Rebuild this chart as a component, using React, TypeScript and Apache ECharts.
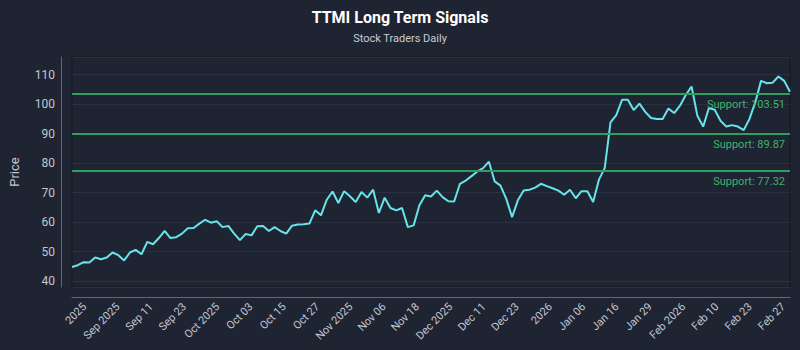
import React, { useEffect, useRef } from "react";
import * as echarts from "echarts";

const TITLE = "TTMI Long Term Signals";
const SUBTITLE = "Stock Traders Daily";

// Trading sessions shown on the chart (weekdays minus US market holidays)
const START_DATE = "2025-08-29";
const END_DATE = "2026-02-27";
const HOLIDAYS = ["2025-09-01", "2025-11-27", "2025-12-25", "2026-01-01", "2026-01-19", "2026-02-16"];

function tradingDays(start: string, end: string, holidays: string[]): string[] {
  const out: string[] = [];
  const d = new Date(start + "T00:00:00Z");
  const e = new Date(end + "T00:00:00Z");
  while (d.getTime() <= e.getTime()) {
    const iso = d.toISOString().slice(0, 10);
    const wd = d.getUTCDay();
    if (wd !== 0 && wd !== 6 && holidays.indexOf(iso) < 0) out.push(iso);
    d.setUTCDate(d.getUTCDate() + 1);
  }
  return out;
}

const dates = tradingDays(START_DATE, END_DATE, HOLIDAYS);

const prices = [
  44.8, 45.4, 46.4, 46.3, 48.0, 47.4, 48.0, 49.7, 48.8, 47.0,
  49.7, 50.6, 49.1, 53.3, 52.5, 54.6, 57.0, 54.6, 54.9, 56.1,
  57.9, 58.0, 59.5, 60.8, 59.8, 60.3, 58.3, 58.7, 56.1, 53.9,
  56.0, 55.5, 58.6, 58.7, 57.0, 58.3, 57.0, 56.1, 58.8, 59.2,
  59.3, 59.5, 64.0, 62.3, 67.6, 70.4, 66.5, 70.5, 68.8, 66.8,
  70.2, 68.3, 71.0, 63.1, 68.3, 64.8, 64.0, 64.8, 58.3, 58.9,
  65.7, 69.1, 68.7, 70.7, 68.5, 67.1, 67.0, 73.0, 74.1, 75.6,
  77.2, 78.3, 80.5, 73.8, 72.4, 67.9, 61.7, 67.4, 70.7, 71.0,
  71.7, 73.0, 72.2, 71.5, 70.7, 69.3, 71.0, 68.1, 70.5, 70.5,
  66.8, 74.4, 78.3, 93.8, 96.3, 101.5, 101.5, 98.0, 100.2, 97.4,
  95.3, 95.0, 95.0, 98.5, 97.0, 99.5, 103.1, 106.0, 96.1, 92.4,
  98.7, 98.1, 94.4, 92.4, 92.9, 92.4, 91.2, 95.0, 100.6, 107.9,
  107.1, 107.3, 109.4, 107.9, 104.2,
];

const supportLevels = [103.51, 89.87, 77.32];

const tickLabels = [
  "2025", "Sep 2025", "Sep 11", "Sep 23", "Oct 2025", "Oct 03", "Oct 15", "Oct 27",
  "Nov 2025", "Nov 06", "Nov 18", "Dec 2025", "Dec 11", "Dec 23", "2026", "Jan 06",
  "Jan 16", "Jan 29", "Feb 2026", "Feb 10", "Feb 23", "Feb 27",
];

const BG = "#1f2433";
const AXIS_TEXT = "#c2c7d1";
const AXIS_LINE = "#5f6778";
const LINE_COLOR = "#67e3ea";
const SUPPORT_LINE = "#2f9e5f";
const SUPPORT_TEXT = "#3cb56a";

export default function App() {
  const ref = useRef<HTMLDivElement>(null);

  useEffect(() => {
    if (!ref.current) return;
    const chart = echarts.init(ref.current, null, { renderer: "svg" });
    chart.setOption({
      animation: false,
      backgroundColor: BG,
      textStyle: { fontFamily: "Roboto" },
      title: {
        text: TITLE,
        subtext: SUBTITLE,
        left: "center",
        top: 4,
        itemGap: 8,
        textStyle: { color: "#ffffff", fontSize: 16, fontWeight: "bold", fontFamily: "Roboto" },
        subtextStyle: { color: "#c8ccd4", fontSize: 11, fontFamily: "Roboto" },
      },
      grid: [
        { left: 68, right: 10, top: 57, bottom: 63, show: true, borderColor: "#12161f", borderWidth: 1, backgroundColor: "transparent" },
        { left: 68, right: 0, top: 57, bottom: 63, show: false },
      ],
      xAxis: [
        {
          type: "category",
          gridIndex: 0,
          data: dates,
          boundaryGap: false,
          offset: 10,
          axisLine: { show: true, lineStyle: { color: AXIS_LINE } },
          axisTick: { show: false },
          axisLabel: { show: false },
          splitLine: { show: false },
        },
        {
          type: "category",
          gridIndex: 1,
          data: tickLabels,
          boundaryGap: true,
          offset: 10,
          axisLine: { show: false },
          axisTick: { show: false },
          splitLine: { show: false },
          axisLabel: { interval: 0, rotate: 45, color: AXIS_TEXT, fontSize: 11, margin: 8 },
        },
      ],
      yAxis: [
        {
          type: "value",
          gridIndex: 0,
          min: 38,
          max: 116,
          splitNumber: 8,
          offset: 11,
          name: "Price",
          nameLocation: "middle",
          nameGap: 40,
          nameTextStyle: { color: AXIS_TEXT, fontSize: 13 },
          axisLine: { show: true, lineStyle: { color: AXIS_LINE } },
          axisTick: { show: false },
          axisLabel: { color: AXIS_TEXT, fontSize: 12, margin: 6, showMinLabel: false, showMaxLabel: false },
          splitLine: { show: true, lineStyle: { color: "#293042", width: 1 } },
        },
        { type: "value", gridIndex: 1, show: false },
      ],
      series: [
        {
          type: "line",
          xAxisIndex: 0,
          yAxisIndex: 0,
          data: prices,
          showSymbol: false,
          symbol: "none",
          lineStyle: { color: LINE_COLOR, width: 2 },
          markLine: {
            silent: true,
            symbol: "none",
            lineStyle: { color: SUPPORT_LINE, width: 2, type: "solid" },
            label: { position: "insideEndBottom", color: SUPPORT_TEXT, fontSize: 11, fontFamily: "Roboto" },
            data: supportLevels.map((v) => ({
              yAxis: v,
              label: { formatter: "Support: " + v.toFixed(2) },
            })),
          },
        },
      ],
    });
    return () => chart.dispose();
  }, []);

  return (
    <div
      ref={ref}
      style={{ position: "fixed", left: 0, top: 0, width: 800, height: 350 }}
    />
  );
}
